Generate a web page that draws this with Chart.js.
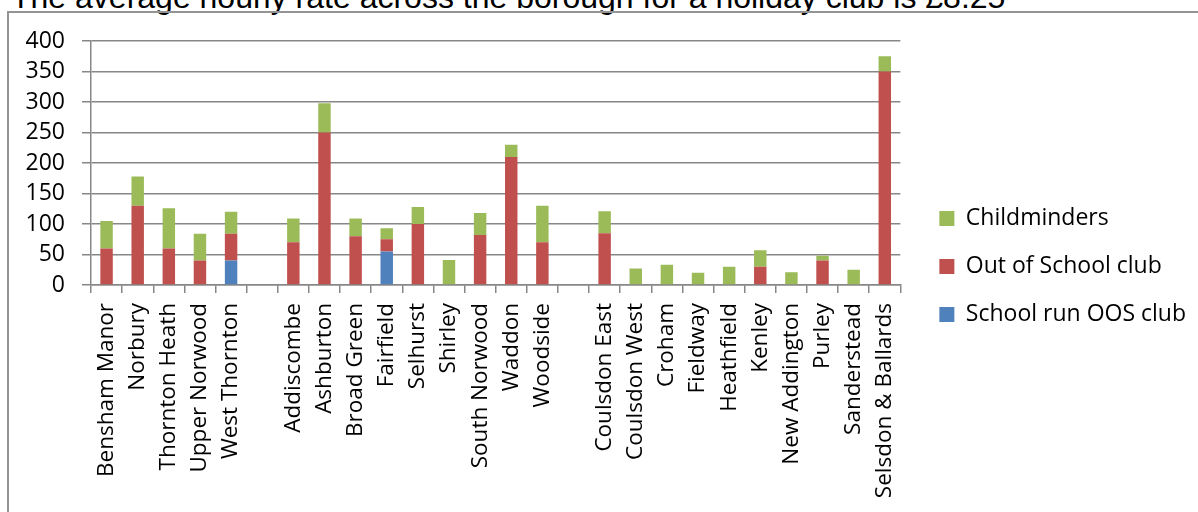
<!DOCTYPE html>
<html>
<head>
<meta charset="utf-8">
<script src="https://cdn.jsdelivr.net/npm/chart.js@4.4.1/dist/chart.umd.min.js"></script>
<style>
  html, body { margin: 0; padding: 0; background: #fff; overflow: hidden; }
  #page { position: relative; width: 1198px; height: 512px; overflow: hidden; }
  #note {
    position: absolute; left: 11px; top: -19px;
    font-family: "Liberation Sans", Arial, sans-serif; font-size: 32px; line-height: 32px;
    color: #000; white-space: nowrap;
  }
  #frame {
    position: absolute; left: 7px; top: 11px; width: 1300px; height: 600px;
    border: 2px solid #949494;
  }
  #wrap { position: absolute; left: 0; top: 0; width: 1198px; height: 512px; }
</style>
</head>
<body>
<div id="page">
  <div id="note">The average hourly rate across the borough for a holiday club is £8.25</div>
  <div id="frame"></div>
  <div id="wrap"><canvas id="myChart"></canvas></div>
</div>
<script>
// wards, '' = gap between the three areas
const wards = [
  'Bensham Manor', 'Norbury', 'Thornton Heath', 'Upper Norwood', 'West Thornton',
  '',
  'Addiscombe', 'Ashburton', 'Broad Green', 'Fairfield', 'Selhurst', 'Shirley',
  'South Norwood', 'Waddon', 'Woodside',
  '',
  'Coulsdon East', 'Coulsdon West', 'Croham', 'Fieldway', 'Heathfield', 'Kenley',
  'New Addington', 'Purley', 'Sanderstead', 'Selsdon & Ballards'
];

const schoolRun = [
  0, 0, 0, 0, 40,
  null,
  0, 0, 0, 55, 0, 0, 0, 0, 0,
  null,
  0, 0, 0, 0, 0, 0, 0, 0, 0, 0
];

const outOfSchool = [
  60, 130, 60, 40, 44,
  null,
  70, 250, 80, 20, 100, 0, 82, 210, 70,
  null,
  85, 0, 0, 0, 0, 30, 0, 40, 0, 350
];

const childminders = [
  45, 48, 66, 44, 36,
  null,
  39, 48, 29, 18, 28, 41, 36, 20, 60,
  null,
  36, 27, 33, 20, 30, 27, 21, 8, 25, 25
];

const yTicks = { min: 0, max: 400, step: 50 };

const gridColor = '#878787';
const fontFamily = '"Open Sans", sans-serif';

// push the legend a bit away from the plot and up a little
const legendShift = {
  id: 'legendShift',
  afterLayout(chart) {
    const l = chart.legend;
    l.left += 14;
    l.right += 14;
    l.top -= 10;
    l.bottom -= 10;
  }
};

const data = {
  labels: wards,
  datasets: [{
    label: 'School run OOS club',
    data: schoolRun,
    backgroundColor: '#4F81BD'
  },
  {
    label: 'Out of School club',
    data: outOfSchool,
    backgroundColor: '#C0504D'
  },
  {
    label: 'Childminders',
    data: childminders,
    backgroundColor: '#9BBB59'
  }]
};

const config = {
  type: 'bar',
  data: data,
  plugins: [legendShift],
  options: {
    responsive: true,
    maintainAspectRatio: false,
    animation: false,
    layout: {
      padding: { top: 41, left: 0, right: 16, bottom: 0 }
    },
    datasets: {
      bar: {
        barPercentage: 0.4,
        categoryPercentage: 1
      }
    },
    scales: {
      x: {
        stacked: true,
        grid: {
          drawOnChartArea: false,
          offset: true,
          tickLength: 8,
          color: gridColor,
          lineWidth: 1.5
        },
        border: { color: gridColor, width: 1.5 },
        ticks: {
          autoSkip: false,
          minRotation: 90,
          maxRotation: 90,
          padding: 10,
          color: '#000',
          font: { family: fontFamily, size: 22.5 }
        },
        afterFit: function (scale) {
          scale.height = 227;
        }
      },
      y: {
        stacked: true,
        min: yTicks.min,
        max: yTicks.max,
        grid: {
          tickLength: 9,
          color: gridColor,
          lineWidth: 1.5
        },
        border: { color: gridColor, width: 1.5 },
        ticks: {
          autoSkip: false,
          stepSize: yTicks.step,
          padding: 17,
          color: '#000',
          font: { family: fontFamily, size: 23 }
        },
        afterFit: function (scale) {
          scale.width = 91;
        }
      }
    },
    plugins: {
      legend: {
        position: 'right',
        reverse: true,
        labels: {
          boxWidth: 15,
          boxHeight: 15,
          padding: 25,
          color: '#000',
          font: { family: fontFamily, size: 23 }
        }
      },
      tooltip: { enabled: false }
    }
  }
};

var myChart = new Chart(document.getElementById('myChart'), config);
</script>
</body>
</html>
